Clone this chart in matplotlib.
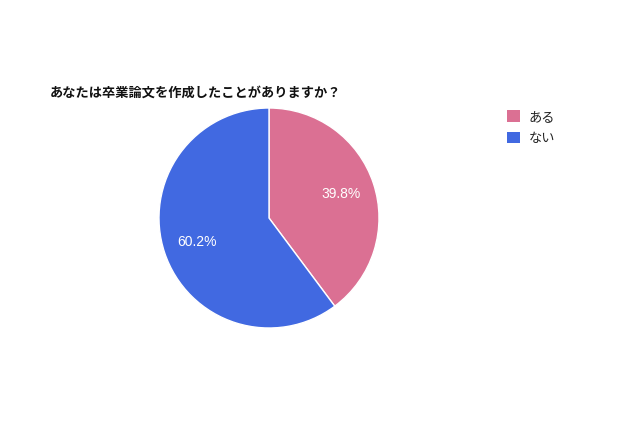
import matplotlib
matplotlib.use("Agg")
from matplotlib import pyplot as plt
from matplotlib.patches import Patch

plt.rcParams['font.family'] = ['Noto Sans CJK JP', 'DejaVu Sans']

labels = ['ある', 'ない']
values = [39.8, 60.2]
colors = ['#DB7093', '#4169E1']
title = 'あなたは卒業論文を作成したことがありますか？'

fig = plt.figure(figsize=(6.4, 4.26), dpi=100)
ax = fig.add_axes([159 / 640, 98 / 426, 220 / 640, 220 / 426])

wedges, texts, autotexts = ax.pie(values, colors=colors, startangle=90, counterclock=False,
                                  autopct='%.1f%%', pctdistance=0.69,
                                  wedgeprops={'edgecolor': 'white', 'linewidth': 1})
for t in autotexts:
    t.set_color('white')
    t.set_fontsize(10)
    t.set_family(['Liberation Sans', 'DejaVu Sans'])
ax.set_xlim(-1, 1)
ax.set_ylim(-1, 1)
ax.set_aspect('equal')
ax.axis('off')

fig.text(50 / 640, 1 - 93 / 426, title, fontsize=9.5, fontweight='bold', va='center', ha='left',
         color='#111111')

handles = [Patch(facecolor=c, edgecolor='none') for c in colors]
leg = fig.legend(handles, labels, loc='upper left', bbox_to_anchor=(502 / 640, 1 - 105 / 426),
                 frameon=False, fontsize=9.5, handlelength=1.0, handleheight=1.0,
                 handletextpad=0.6, labelspacing=0.6, borderaxespad=0)
for t in leg.get_texts():
    t.set_color('#222222')

fig.savefig('out.png', dpi=100)
